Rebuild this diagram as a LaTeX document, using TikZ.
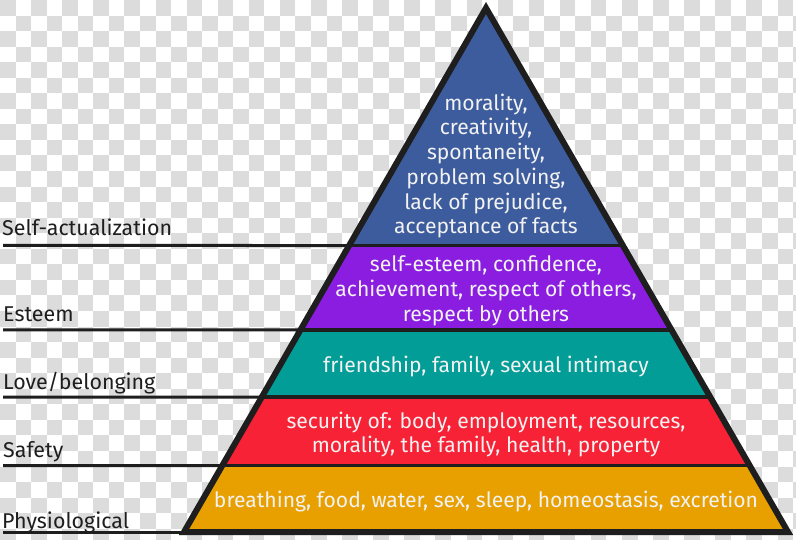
\documentclass[tikz,border=0pt]{standalone}
\usepackage{fontspec}
\setmainfont{Fira Sans}
\usetikzlibrary{calc}
\definecolor{cblue}{HTML}{3D5C9E}
\definecolor{cpurple}{HTML}{8A1DE0}
\definecolor{cteal}{HTML}{029D97}
\definecolor{cred}{HTML}{F72235}
\definecolor{corange}{HTML}{E8A000}
\definecolor{cgrey}{HTML}{DCDCDC}
\definecolor{cink}{HTML}{1E1E1E}
\definecolor{ctext}{HTML}{F2F2F2}
\begin{document}
\begin{tikzpicture}[x=1pt,y=-1pt,
  inner/.style={text=ctext,align=center,inner sep=0pt,font=\fontsize{21.1}{24.7}\selectfont},
  lvl/.style={text=cink,anchor=base west,inner sep=0pt,font=\fontsize{21.4}{26}\selectfont},
  divider/.style={draw=cink,line width=3.5pt},
  leader/.style={draw=cink,line width=3pt}]
\useasboundingbox (0,0) rectangle (796,540);
% checkerboard background
\fill[white] (0,0) rectangle (796,540);
\foreach \i in {0,...,25}{
  \foreach \j in {0,...,17}{
    \fill[cgrey] ({2*\i*15.55},{2*\j*15.55}) rectangle ++(15.55,15.55);
    \fill[cgrey] ({(2*\i+1)*15.55},{(2*\j+1)*15.55}) rectangle ++(15.55,15.55);
  }
}
% pyramid corners
\coordinate (A) at (486,8);
\coordinate (B) at (184,532);
\coordinate (C) at (788,532);
\coordinate (L1) at ($(A)!0.45324!(B)$);
\coordinate (R1) at ($(A)!0.45324!(C)$);
\coordinate (L2) at ($(A)!0.61450!(B)$);
\coordinate (R2) at ($(A)!0.61450!(C)$);
\coordinate (L3) at ($(A)!0.74237!(B)$);
\coordinate (R3) at ($(A)!0.74237!(C)$);
\coordinate (L4) at ($(A)!0.87309!(B)$);
\coordinate (R4) at ($(A)!0.87309!(C)$);
% bands
\fill[cblue] (A) -- (L1) -- (R1) -- cycle;
\fill[cpurple] (L1) -- (L2) -- (R2) -- (R1) -- cycle;
\fill[cteal] (L2) -- (L3) -- (R3) -- (R2) -- cycle;
\fill[cred] (L3) -- (L4) -- (R4) -- (R3) -- cycle;
\fill[corange] (L4) -- (B) -- (C) -- (R4) -- cycle;
\draw[divider] (L1) -- (R1);
\draw[divider] (L2) -- (R2);
\draw[divider] (L3) -- (R3);
\draw[divider] (L4) -- (R4);
% left leaders
\coordinate (E1) at (3,245.5);
\coordinate (E2) at (3,330);
\coordinate (E3) at (3,397);
\coordinate (E4) at (3,465.5);
\coordinate (E5) at (3,532);
\draw[leader] (E1) -- (L1);
\draw[leader] (E2) -- (L2);
\draw[leader] (E3) -- (L3);
\draw[leader] (E4) -- (L4);
\draw[leader] (E5) -- (B);
\draw[draw=cink,line width=6pt,line join=miter] (A) -- (B) -- (C) -- cycle;
% level labels
\node[lvl] (self) at (2,236) {Self-actualization};
\node[lvl] (esteem) at (3,322) {Esteem};
\node[lvl] (love) at (3,389) {Love/belonging};
\node[lvl] (safety) at (3,457.5) {Safety};
\node[lvl] (phys) at (2,528) {Physiological};
% band texts
\node[inner] (tself) at (486,166) {morality,\\creativity,\\spontaneity,\\problem solving,\\lack of prejudice,\\acceptance of facts};
\node[inner] (testeem) at (486,291) {self-esteem, confidence,\\achievement, respect of others,\\respect by others};
\node[inner] (tlove) at (486,367) {friendship, family, sexual intimacy};
\node[inner] (tsafety) at (486,434.5) {security of: body, employment, resources,\\morality, the family, health, property};
\node[inner] (tphys) at (486,502) {breathing, food, water, sex, sleep, homeostasis, excretion};
\end{tikzpicture}
\end{document}
